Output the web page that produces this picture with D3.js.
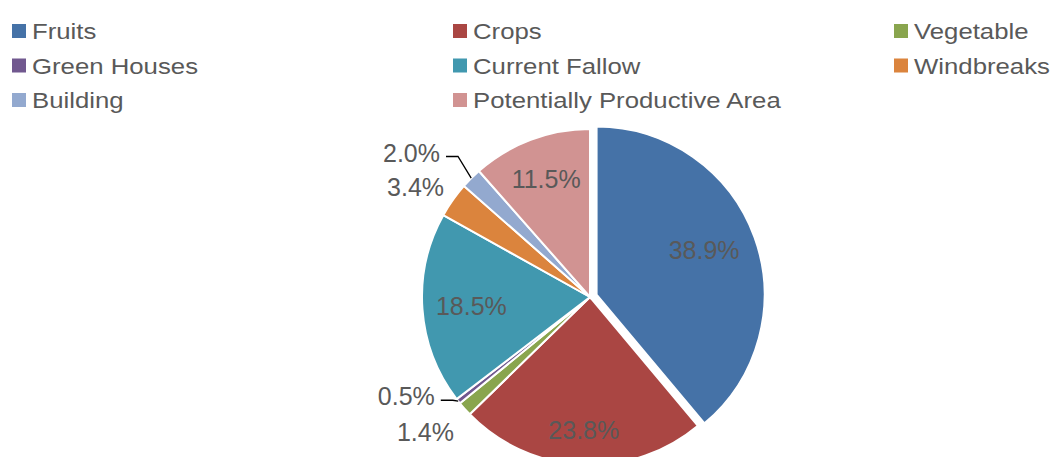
<!doctype html>
<html>
<head>
<meta charset="UTF-8">
<title>Land use pie</title>
<script src="https://cdn.jsdelivr.net/npm/d3@7"></script>
<style>
  body { margin: 0; background: #fff; }
  text { font-family: "Liberation Sans", Arial, sans-serif; fill: #595959; }
</style>
</head>
<body>
<svg id="chart" width="1050" height="457"></svg>
<script>
// data, clockwise from 12 o'clock
var categories = ["Fruits", "Crops", "Vegetable", "Green Houses", "Current Fallow", "Windbreaks", "Building", "Potentially Productive Area"];
var shares = [38.9, 23.8, 1.4, 0.5, 18.5, 3.4, 2.0, 11.5];
var colors = ["#4572A7", "#AA4643", "#89A54E", "#71588F", "#4198AF", "#DB843D", "#93A9CF", "#D19392"];
// legend is laid out row by row in 3 columns
var legendOrder = ["Fruits", "Crops", "Vegetable", "Green Houses", "Current Fallow", "Windbreaks", "Building", "Potentially Productive Area"];

var svg = d3.select("#chart"),
    cx = 590, cy = 297, R = 168,
    explode = 7,
    rIn = 124, rOut = 210;

var color = d3.scaleOrdinal().domain(categories).range(colors);

var data = categories.map(function(c, i) { return {name: c, value: shares[i]}; });

var pie = d3.pie().sort(null).value(function(d) { return d.value; });
var arc = d3.arc().innerRadius(0).outerRadius(R);
var arcs = pie(data);

function polar(a, r) { return [Math.sin(a) * r, -Math.cos(a) * r]; }
function mid(d) { return (d.startAngle + d.endAngle) / 2; }

var g = svg.append("g").attr("transform", "translate(" + cx + "," + cy + ")");

// slices (Fruits pulled out a bit)
g.selectAll("path.slice")
  .data(arcs)
  .enter().append("path")
  .attr("class", "slice")
  .attr("d", arc)
  .attr("transform", function(d) {
    if (d.data.name !== "Fruits") return null;
    var p = polar(mid(d), explode);
    return "translate(" + p[0] + "," + p[1] + ")";
  })
  .attr("fill", function(d) { return color(d.data.name); })
  .attr("stroke", "#fff")
  .attr("stroke-width", 2);

// label placement: big slices inside, small ones outside
var outside = {"Vegetable": true, "Green Houses": true, "Windbreaks": true, "Building": true};
var leader = {"Green Houses": true, "Building": true};
var nudge = {
  "Fruits": [-9, -2], "Crops": [0, 9], "Current Fallow": [5, 0], "Potentially Productive Area": [0, -2],
  "Windbreaks": [-3, 11], "Building": [-30, 4], "Vegetable": [-8, -5], "Green Houses": [-19, -31]
};

var labels = g.selectAll("g.lbl")
  .data(arcs)
  .enter().append("g")
  .attr("class", "lbl");

labels.each(function(d) {
  var name = d.data.name,
      out = outside[name],
      p = polar(mid(d), out ? rOut : rIn),
      n = nudge[name];
  if (name === "Fruits") { var e = polar(mid(d), explode); p[0] += e[0]; p[1] += e[1]; }
  var x = p[0] + n[0], y = p[1] + n[1];
  var t = d3.select(this).append("text")
    .attr("x", x).attr("y", y)
    .attr("dy", "0.36em")
    .attr("text-anchor", "middle")
    .style("font-size", "25px")
    .text(d3.format(".1f")(d.data.value) + "%");
  if (leader[name]) {
    var w = t.node().getComputedTextLength(),
        right = x + w / 2,
        edge = polar(mid(d), R),
        ly = y + 4;
    d3.select(this).insert("path", "text")
      .attr("d", "M" + edge[0] + "," + edge[1] + "L" + (right + 18) + "," + ly + "L" + (right + 6) + "," + ly)
      .attr("fill", "none")
      .attr("stroke", "#000")
      .attr("stroke-width", 1.3);
  }
});

// legend
var colX = [12, 453, 894], rowY = [31, 65.5, 100], sq = 14;
var legend = svg.selectAll("g.legend")
  .data(legendOrder)
  .enter().append("g")
  .attr("class", "legend")
  .attr("transform", function(d, i) {
    return "translate(" + colX[i % 3] + "," + rowY[Math.floor(i / 3)] + ")";
  });

legend.append("rect")
  .attr("x", 0).attr("y", -sq / 2)
  .attr("width", sq).attr("height", sq)
  .attr("fill", function(d) { return color(d); });

legend.append("text")
  .attr("transform", "translate(" + (sq + 6) + ",8) scale(1.12,1)")
  .style("font-size", "23px")
  .text(function(d) { return d; });
</script>
</html>
